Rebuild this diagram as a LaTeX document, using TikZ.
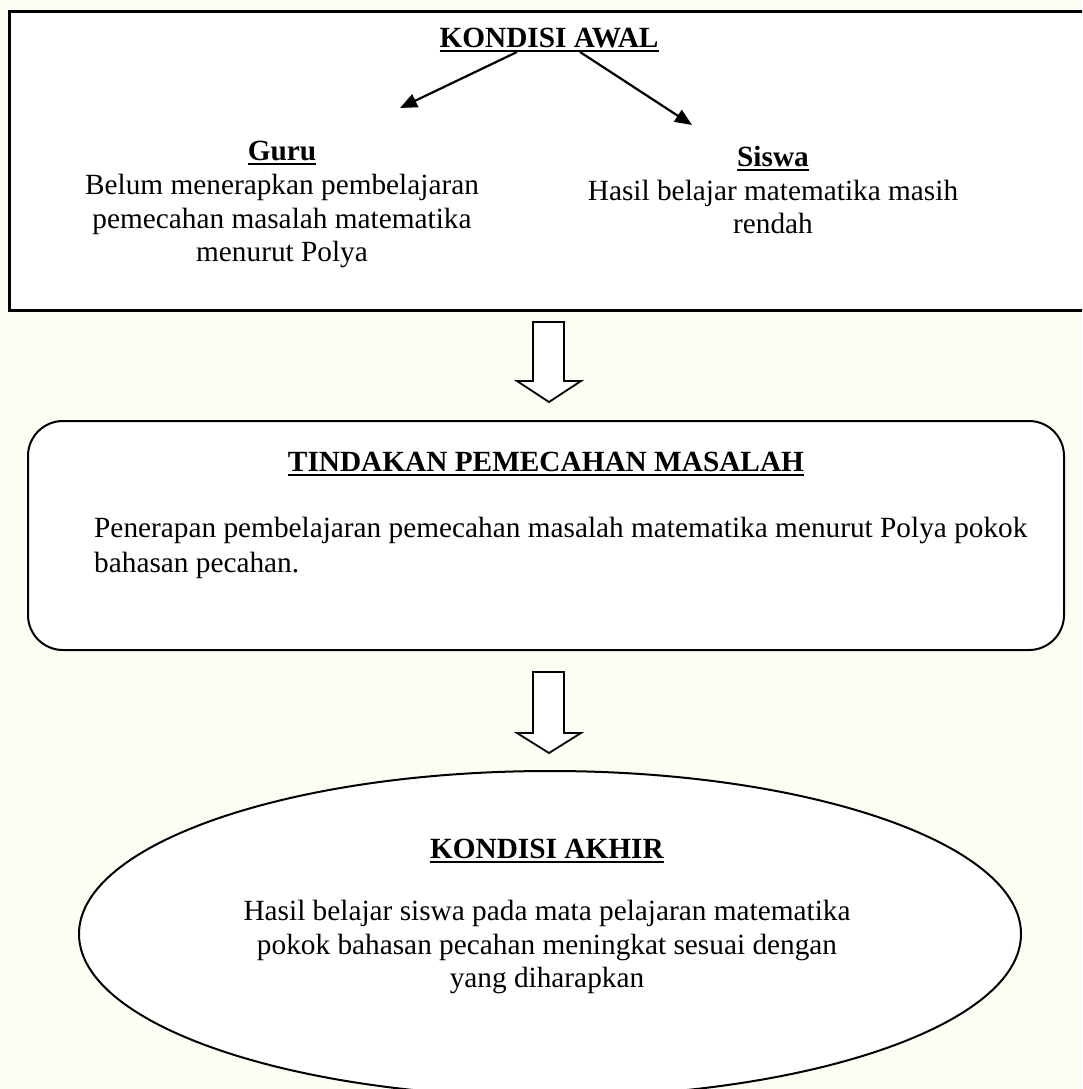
\documentclass[tikz,border=0pt]{standalone}
\usepackage{fontspec}
\setmainfont{Liberation Serif}
\usetikzlibrary{shapes.geometric,arrows.meta}
\newcommand\ulbf[1]{\setbox0\hbox{\textbf{#1}}\leavevmode\rlap{\raisebox{-4.5pt}{\rule{\wd0}{2.2pt}}}\box0}
\definecolor{bgcream}{RGB}{253,253,244}
\begin{document}
\begin{tikzpicture}[x=1pt,y=-1pt,
  every node/.style={inner sep=0pt},
  txt/.style={font=\fontsize{29.3}{33.7}\selectfont, align=center, anchor=north},
  boxline/.style={draw=black, line width=3pt, fill=white},
  rbox/.style={draw=black, line width=2pt, fill=white, rounded corners=35pt},
  oval/.style={draw=black, line width=2pt, fill=white, ellipse},
  conn/.style={draw=black, line width=2.2pt, -{Triangle[length=17pt,width=14pt]}},
  blockarr/.style={draw=black, line width=1.8pt, fill=white, line join=miter}]
\fill[bgcream] (0,0) rectangle (1082,1089);
\useasboundingbox (0,0) rectangle (1082,1089);
\clip (0,0) rectangle (1082,1089);
% boxes
\node[boxline, anchor=north west, minimum width=1100pt, minimum height=299pt] (awal) at (8,10) {};
\node[rbox, anchor=north west, minimum width=1036pt, minimum height=229pt] (tindakan) at (27,420) {};
\node[oval, minimum width=942pt, minimum height=326pt] (akhir) at (550,934) {};
% block arrows
\coordinate (arrA) at (549,322);
\coordinate (arrB) at (549,672);
\draw[blockarr] (arrA) ++(-16,0) -- ++(31,0) -- ++(0,59) -- ++(17,0) -- ++(-32,21) -- ++(-32,-21) -- ++(16,0) -- cycle;
\draw[blockarr] (arrB) ++(-16,0) -- ++(31,0) -- ++(0,61) -- ++(17,0) -- ++(-32,20) -- ++(-32,-20) -- ++(16,0) -- cycle;
% texts
\node[txt] (kawalT) at (549,28) {\ulbf{KONDISI AWAL}};
\node[txt] (guru) at (282,141) {\ulbf{Guru}\\Belum menerapkan pembelajaran\\pemecahan masalah matematika\\menurut Polya};
\node[txt] (siswa) at (773,146) {\ulbf{Siswa}\\Hasil belajar matematika masih\\rendah};
\node[txt] (tindT) at (546,452) {\ulbf{TINDAKAN PEMECAHAN MASALAH}};
\node[txt, font=\fontsize{29.3}{35}\selectfont, align=left, anchor=north west] (tindB) at (94,517) {Penerapan pembelajaran pemecahan masalah matematika menurut Polya pokok\\bahasan pecahan.};
\node[txt] (akhirT) at (547,839) {\ulbf{KONDISI AKHIR}};
\node[txt] (akhirB) at (547,900) {Hasil belajar siswa pada mata pelajaran matematika\\pokok bahasan pecahan meningkat sesuai dengan\\yang diharapkan};
% connectors
\coordinate (gs) at (517,52);
\coordinate (ss) at (580,52);
\coordinate (gt) at (400,108);
\coordinate (st) at (692,125);
\draw[conn] (gs) -- (gt);
\draw[conn] (ss) -- (st);
\end{tikzpicture}
\end{document}
